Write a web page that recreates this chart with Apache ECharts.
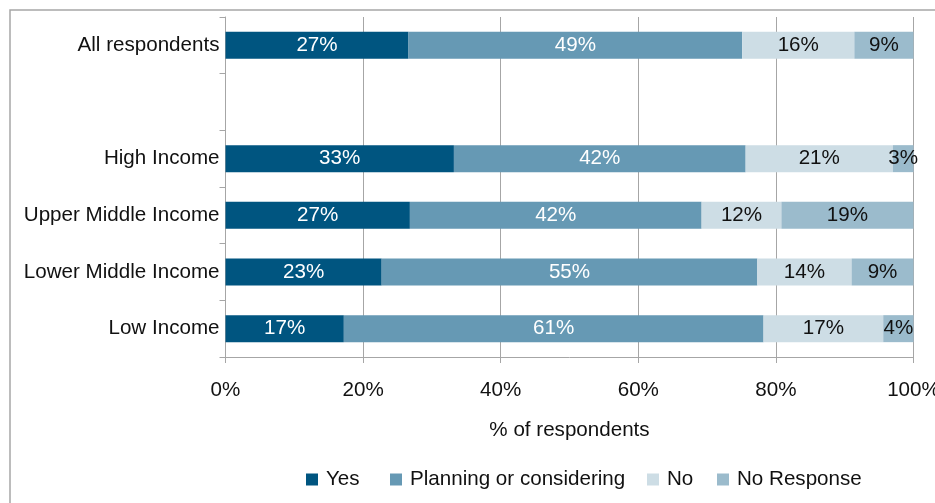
<!DOCTYPE html>
<html>
<head>
<meta charset="utf-8">
<script src="https://cdn.jsdelivr.net/npm/echarts@6/dist/echarts.min.js"></script>
<style>
  html, body { margin: 0; padding: 0; background: #fff; }
  #chart { width: 935px; height: 503px; }
</style>
</head>
<body>
<div id="chart"></div>
<script>
// Respondent groups, top to bottom (the empty entry is a spacer row)
const categories = ['All respondents', '', 'High Income', 'Upper Middle Income', 'Lower Middle Income', 'Low Income'];

// Share of respondents per answer (%)
const yes        = [26.6, null, 33.2, 26.8, 22.7, 17.2];
const planning   = [48.5, null, 42.4, 42.4, 54.6, 61.0];
const no         = [16.3, null, 21.4, 11.6, 13.7, 17.4];
const noResponse = [8.6,  null, 3.0,  19.2, 9.0,  4.4];

const seriesNames = ['Yes', 'Planning or considering', 'No', 'No Response'];
const xTicks = { min: 0, max: 100, interval: 20 };

const FONT = "'Liberation Sans', Arial, sans-serif";
const FS = 20.6;
const GRID_GRAY = '#a6a6a6';

const colors = ['#005580', '#6699b4', '#cddde5', '#9bbbcc'];
const labelColors = ['#ffffff', '#ffffff', '#111111', '#111111'];
const values = [yes, planning, no, noResponse];

// left edge of each legend entry
const legendLeft = [306, 390, 647, 717];

const chart = echarts.init(document.getElementById('chart'), null, { renderer: 'canvas' });

chart.setOption({
  animation: false,
  backgroundColor: '#ffffff',
  textStyle: { fontFamily: FONT },
  graphic: [{
    type: 'rect',
    shape: { x: 10, y: 10, width: 2000, height: 2000 },
    style: { fill: 'none', stroke: GRID_GRAY, lineWidth: 1.5 },
    silent: true,
    z: -1
  }],
  grid: { left: 225.5, right: 21.5, top: 17, bottom: 146, containLabel: false, outerBoundsMode: 'none' },
  legend: seriesNames.map((name, i) => ({
    data: [name],
    left: legendLeft[i],
    top: 469,
    padding: 0,
    itemWidth: 12,
    itemHeight: 12,
    icon: 'rect',
    textStyle: { fontFamily: FONT, fontSize: FS, color: '#111', padding: [0, 0, 0, 3] }
  })),
  xAxis: {
    type: 'value',
    min: xTicks.min,
    max: xTicks.max,
    interval: xTicks.interval,
    name: '% of respondents',
    nameLocation: 'middle',
    nameGap: 63,
    nameTextStyle: { fontFamily: FONT, fontSize: FS, color: '#111' },
    axisLine: { show: true, lineStyle: { color: GRID_GRAY, width: 1 } },
    axisTick: { show: true, length: 6, lineStyle: { color: GRID_GRAY } },
    axisLabel: { formatter: '{value}%', fontFamily: FONT, fontSize: FS, color: '#111', margin: 23 },
    splitLine: { show: true, lineStyle: { color: GRID_GRAY, width: 1 } }
  },
  yAxis: {
    type: 'category',
    data: categories,
    inverse: true,
    axisLine: { show: true, lineStyle: { color: GRID_GRAY, width: 1 } },
    axisTick: { show: true, length: 6, lineStyle: { color: GRID_GRAY } },
    axisLabel: { fontFamily: FONT, fontSize: FS, color: '#111', margin: 6, padding: [6, 0, 0, 0] },
    splitLine: { show: false }
  },
  series: seriesNames.map((name, i) => ({
    name: name,
    type: 'bar',
    stack: 'total',
    barWidth: 27,
    data: values[i],
    itemStyle: { color: colors[i] },
    label: {
      show: true,
      position: 'inside',
      fontFamily: FONT,
      fontSize: FS,
      color: labelColors[i],
      padding: [4, 0, 0, 0],
      formatter: p => Math.round(p.value) + '%'
    }
  }))
});
</script>
</body>
</html>
